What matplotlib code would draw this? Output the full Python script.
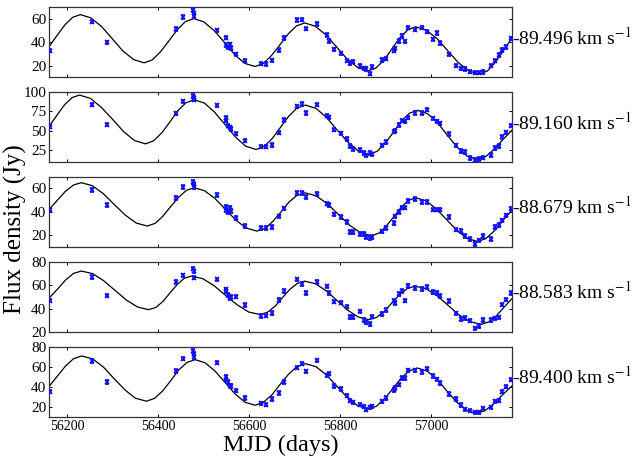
#!/usr/bin/env python3
"""Five stacked maser light curves (flux density vs MJD) with the periodic model fit."""
import matplotlib
matplotlib.use("Agg")
import matplotlib.pyplot as plt

plt.rcParams["font.family"] = ["Liberation Serif", "DejaVu Serif"]
plt.rcParams["mathtext.fontset"] = "stix"

# ──────────────────────────────────────────────────────────────────────────────
# observation epochs (MJD), shared by every velocity channel
MJD_OBS = [56163, 56255, 56287.5, 56439, 56455, 56477, 56478, 56479, 56530, 56548,
           56549, 56553, 56558, 56560, 56571, 56590, 56626, 56638, 56650, 56665,
           56676, 56706, 56716, 56726, 56749, 56771, 56776, 56787, 56801, 56816,
           56821, 56829, 56843, 56853, 56857, 56865, 56871, 56893, 56900, 56918,
           56921, 56929, 56935, 56942, 56949, 56965, 56979, 56992, 57005, 57012,
           57020, 57040, 57054, 57065, 57075, 57085, 57096, 57106, 57115, 57131,
           57140, 57149, 57156, 57165, 57176]

FLUX_1 = [32.7, 57.5, 39.7, 51, 61.4, 67, 64.5, 62, 49.9, 43.7,
          37.5, 35.5, 38, 35, 29.6, 24.2, 21.7, 21.4, 24.5, 33.2,
          43.4, 58.6, 59.2, 51.5, 55.2, 46.2, 41.1, 33.8, 30.4, 24.2,
          22, 23.4, 19.4, 17.5, 16.9, 13.2, 18.6, 24.8, 25.9, 32.7,
          34.6, 40.8, 45.1, 40.6, 52.4, 50.7, 52.4, 49, 42.3, 47.9,
          39.4, 29.6, 20, 17.5, 16.9, 14.9, 14, 14, 14.5, 20,
          24.2, 29, 33.2, 36, 43.1]
FLUX_2 = [55.5, 83.5, 58, 72.5, 87.7, 94.5, 92, 90, 82.6, 66.5,
          63, 56.8, 54.7, 52.5, 46.6, 37.5, 30, 30, 31.8, 47.9,
          64, 81.4, 84.3, 72.9, 83.5, 69.5, 67.4, 51.7, 47, 39.4,
          30.5, 27.1, 25.4, 22, 18.6, 21.6, 20, 31.4, 35.6, 49.2,
          50.4, 57.6, 63.1, 62.3, 66.9, 72.9, 72.9, 77.1, 66.1, 62.3,
          59.7, 46.2, 31.4, 24.2, 22.9, 15.3, 13.1, 14, 15.7, 19.5,
          28.4, 30.5, 42, 48.3, 56.8]
FLUX_3 = [42, 58.6, 46, 52, 61.4, 65.7, 63.4, 61.4, 54.3, 44,
          41.4, 40, 43.4, 40.9, 34.9, 28, 26.3, 26.3, 27.1, 36.3,
          43.1, 56.3, 56.3, 52.6, 55.1, 47.1, 45.7, 38, 35.7, 31.4,
          22.9, 22.9, 21.4, 21.4, 18.6, 18, 18.6, 23.4, 26.3, 30.6,
          36.3, 40, 43.7, 43.7, 49.1, 50.9, 48.3, 48.3, 42, 42,
          42, 35.7, 24.9, 23.7, 19.4, 16.9, 12.9, 15.7, 19.4, 17,
          27, 29, 32.9, 37, 42.9]
FLUX_4 = [46.9, 66.9, 51.1, 62.6, 68.3, 74, 71.7, 66.3, 64.9, 56.3,
          54.9, 51.7, 49.1, 50, 50.3, 43.1, 33.7, 34, 36.3, 47.4,
          54.9, 64.9, 61.1, 53.1, 62.6, 58.9, 53.1, 46, 45.1, 41.7,
          32.9, 32.9, 37.7, 30.3, 28.3, 26.9, 33.1, 35.4, 38.9, 46.9,
          44.6, 52.6, 54.9, 46.9, 59.1, 57.7, 56.9, 58.6, 54, 53.1,
          50.6, 46.3, 36, 31.1, 32, 29.7, 23.1, 25.4, 30.3, 30.3,
          31.7, 32.6, 43.4, 47.7, 53.4]
FLUX_5 = [35.3, 65.7, 44.7, 55.7, 68, 75.7, 73, 69.7, 64, 49.7,
          47, 44.7, 41.3, 41, 36.3, 29, 23.7, 22.3, 27.7, 33.7,
          44.7, 59, 63, 55.3, 66.3, 51.3, 53, 40.7, 38, 31.3,
          26.3, 24.7, 22.3, 20.3, 17.3, 19.7, 20.7, 25.7, 29, 37,
          39, 42.3, 48.7, 48.7, 56.3, 56.3, 54.7, 58, 50.7, 47.3,
          43.7, 33, 28, 22, 17.7, 16.3, 14.7, 14.7, 18.7, 19.7,
          25.7, 26.3, 35.3, 40.3, 47]
FLUX_ERR = [1.5, 2.2, 1.5, 1.5, 1.7]   # typical 1-sigma error per channel (Jy)

# model curves
MODEL_T1 = [56160, 56178, 56195, 56212, 56229, 56252, 56276, 56299, 56322, 56346, 56369,
            56387, 56405, 56424, 56442, 56460, 56478, 56500, 56523, 56546, 56568, 56590,
            56613, 56631, 56649, 56668, 56686, 56704, 56722, 56745, 56769, 56792, 56815,
            56839, 56862, 56879, 56897, 56914, 56931, 56949, 56966, 56989, 57013, 57036,
            57059, 57083, 57106, 57124, 57142, 57160, 57177]
MODEL_F1 = [36, 45.8, 54.7, 61.1, 63.4, 60.6, 53.1, 42.9, 32.6, 25.1, 22.3,
            24.8, 31.7, 41.2, 50.6, 57.5, 60, 57.3, 49.8, 39.6, 29.4, 21.9,
            19.2, 21.7, 28.5, 37.8, 47, 53.8, 56.3, 53.6, 46.1, 35.9, 25.7,
            18.2, 15.5, 18, 24.9, 34.3, 43.6, 50.5, 53, 50.3, 42.9, 32.9,
            22.8, 15.4, 12.7, 15.5, 23, 33.4, 43]
MODEL_T2 = [56160, 56177, 56194, 56211, 56227, 56251, 56275, 56300, 56324, 56348, 56372,
            56390, 56408, 56426, 56443, 56461, 56479, 56502, 56524, 56547, 56570, 56592,
            56615, 56633, 56651, 56669, 56687, 56705, 56724, 56747, 56770, 56793, 56817,
            56840, 56863, 56881, 56899, 56917, 56934, 56952, 56970, 56992, 57014, 57035,
            57057, 57079, 57101, 57120, 57140, 57160, 57179]
MODEL_F2 = [55.5, 69.7, 83.3, 92.7, 95.8, 91.6, 80.2, 64.7, 49.1, 37.7, 33.5,
            37.3, 47.6, 61.7, 75.7, 86, 89.8, 85.5, 73.9, 58.1, 42.2, 30.6,
            26.3, 30.1, 40.5, 54.7, 68.8, 79.2, 83, 78.8, 67.3, 51.5, 35.8,
            24.2, 20, 23.8, 34.1, 48.2, 62.2, 72.5, 76.3, 72.1, 60.6, 45,
            29.3, 17.8, 13.6, 17.2, 27.2, 40.3, 51.7]
MODEL_T3 = [56160, 56178, 56196, 56214, 56231, 56255, 56279, 56303, 56328, 56352, 56376,
            56393, 56410, 56427, 56445, 56462, 56479, 56502, 56525, 56548, 56571, 56594,
            56617, 56635, 56652, 56670, 56687, 56705, 56722, 56747, 56771, 56796, 56820,
            56845, 56869, 56885, 56901, 56918, 56934, 56950, 56966, 56989, 57011, 57034,
            57057, 57079, 57102, 57120, 57140, 57160, 57179]
MODEL_F3 = [42, 49.8, 57.5, 63, 64.9, 62.4, 55.7, 46.5, 37.2, 30.5, 28,
            30.2, 36.2, 44.3, 52.5, 58.4, 60.6, 58.1, 51.4, 42.2, 32.9, 26.2,
            23.7, 25.9, 31.9, 40, 48.2, 54.1, 56.3, 53.8, 47.2, 38, 28.9,
            22.2, 19.7, 21.9, 27.8, 35.9, 43.9, 49.8, 52, 49.5, 42.7, 33.5,
            24.2, 17.4, 14.9, 17.2, 24.2, 33.6, 42]
MODEL_T4 = [56160, 56178, 56196, 56214, 56231, 56256, 56280, 56305, 56330, 56355, 56379,
            56395, 56411, 56426, 56442, 56457, 56473, 56498, 56523, 56548, 56574, 56599,
            56624, 56640, 56657, 56673, 56689, 56706, 56722, 56746, 56769, 56793, 56816,
            56840, 56863, 56880, 56897, 56914, 56931, 56948, 56965, 56989, 57013, 57037,
            57061, 57086, 57110, 57127, 57144, 57161, 57179]
MODEL_F4 = [48.9, 56.3, 64.2, 70, 72, 69.8, 63.8, 55.6, 47.3, 41.3, 39.1,
            41, 46.3, 53.4, 60.6, 65.8, 67.7, 65.5, 59.5, 51.3, 43.1, 37.1,
            34.9, 36.8, 42, 49.2, 56.3, 61.5, 63.4, 61.2, 55.2, 47, 38.8,
            32.8, 30.6, 32.5, 37.7, 44.9, 52, 57.2, 59.1, 56.9, 51, 42.9,
            34.7, 28.8, 26.6, 28.7, 34.1, 41.5, 49]
MODEL_T5 = [56160, 56178, 56196, 56214, 56232, 56256, 56280, 56303, 56327, 56350, 56374,
            56392, 56410, 56428, 56445, 56463, 56481, 56503, 56525, 56547, 56569, 56591,
            56613, 56631, 56650, 56668, 56687, 56705, 56724, 56747, 56770, 56793, 56816,
            56839, 56862, 56880, 56898, 56916, 56934, 56952, 56970, 56991, 57013, 57034,
            57056, 57077, 57099, 57118, 57138, 57158, 57179]
MODEL_F5 = [40.3, 50.4, 60.5, 68, 70.7, 67.7, 59.5, 48.2, 36.9, 28.7, 25.7,
            28.5, 36, 46.4, 56.7, 64.2, 67, 64, 55.7, 44.4, 33, 24.7,
            21.7, 24.5, 32, 42.4, 52.7, 60.2, 63, 60, 51.8, 40.5, 29.3,
            21, 18, 20.7, 28.2, 38.4, 48.5, 56, 58.7, 55.7, 47.5, 36.2,
            24.9, 16.7, 13.7, 16.2, 23.3, 32.6, 41.3]

VELOCITIES = ["-89.496", "-89.160", "-88.679", "-88.583", "-89.400"]
Y_LIMITS = [(10, 70), (10, 100), (10, 70), (20, 80), (10, 80)]
Y_TICKS = [[20, 40, 60], [25, 50, 75, 100], [20, 40, 60], [20, 40, 60, 80], [20, 40, 60, 80]]
X_TICKS = [56200, 56400, 56600, 56800, 57000]
X_LIMITS = (56160, 57178)
# ──────────────────────────────────────────────────────────────────────────────

FLUXES = [FLUX_1, FLUX_2, FLUX_3, FLUX_4, FLUX_5]
MODELS = [(MODEL_T1, MODEL_F1), (MODEL_T2, MODEL_F2), (MODEL_T3, MODEL_F3),
          (MODEL_T4, MODEL_F4), (MODEL_T5, MODEL_F5)]

fig, axes = plt.subplots(5, 1, figsize=(6.33, 4.58), dpi=100, sharex=True)
fig.subplots_adjust(left=0.0774, right=0.809, top=0.985, bottom=0.0895, hspace=0.206)

for i, ax in enumerate(axes):
    mt, mf = MODELS[i]
    ax.plot(mt, mf, color="black", lw=0.9, zorder=2, solid_joinstyle="round")
    ax.errorbar(MJD_OBS, FLUXES[i], yerr=FLUX_ERR[i], fmt="x", color="#1010ff",
                ms=3, mew=1.2, elinewidth=1.0, capsize=1.6, capthick=1.0, zorder=3)
    ax.set_xlim(*X_LIMITS)
    ax.set_ylim(*Y_LIMITS[i])
    ax.set_yticks(Y_TICKS[i])
    ax.set_xticks(X_TICKS)
    ax.tick_params(direction="in", top=True, right=True, length=2.5, width=0.7,
                   labelsize=11, pad=2)
    ax.tick_params(axis="x", labelsize=10)
    for sp in ax.spines.values():
        sp.set_linewidth(0.9)
        sp.set_color("#333333")
    ax.text(1.0, 0.57, f"{VELOCITIES[i]} km s$^{{-1}}$", transform=ax.transAxes,
            ha="left", va="center", fontsize=14)

fig.text(0.025, 0.5, "Flux density (Jy)", rotation=90, ha="center", va="center",
         fontsize=18)
fig.text(0.443, 0.028, "MJD (days)", ha="center", va="center", fontsize=17.5)

fig.savefig("out.png", dpi=100)
